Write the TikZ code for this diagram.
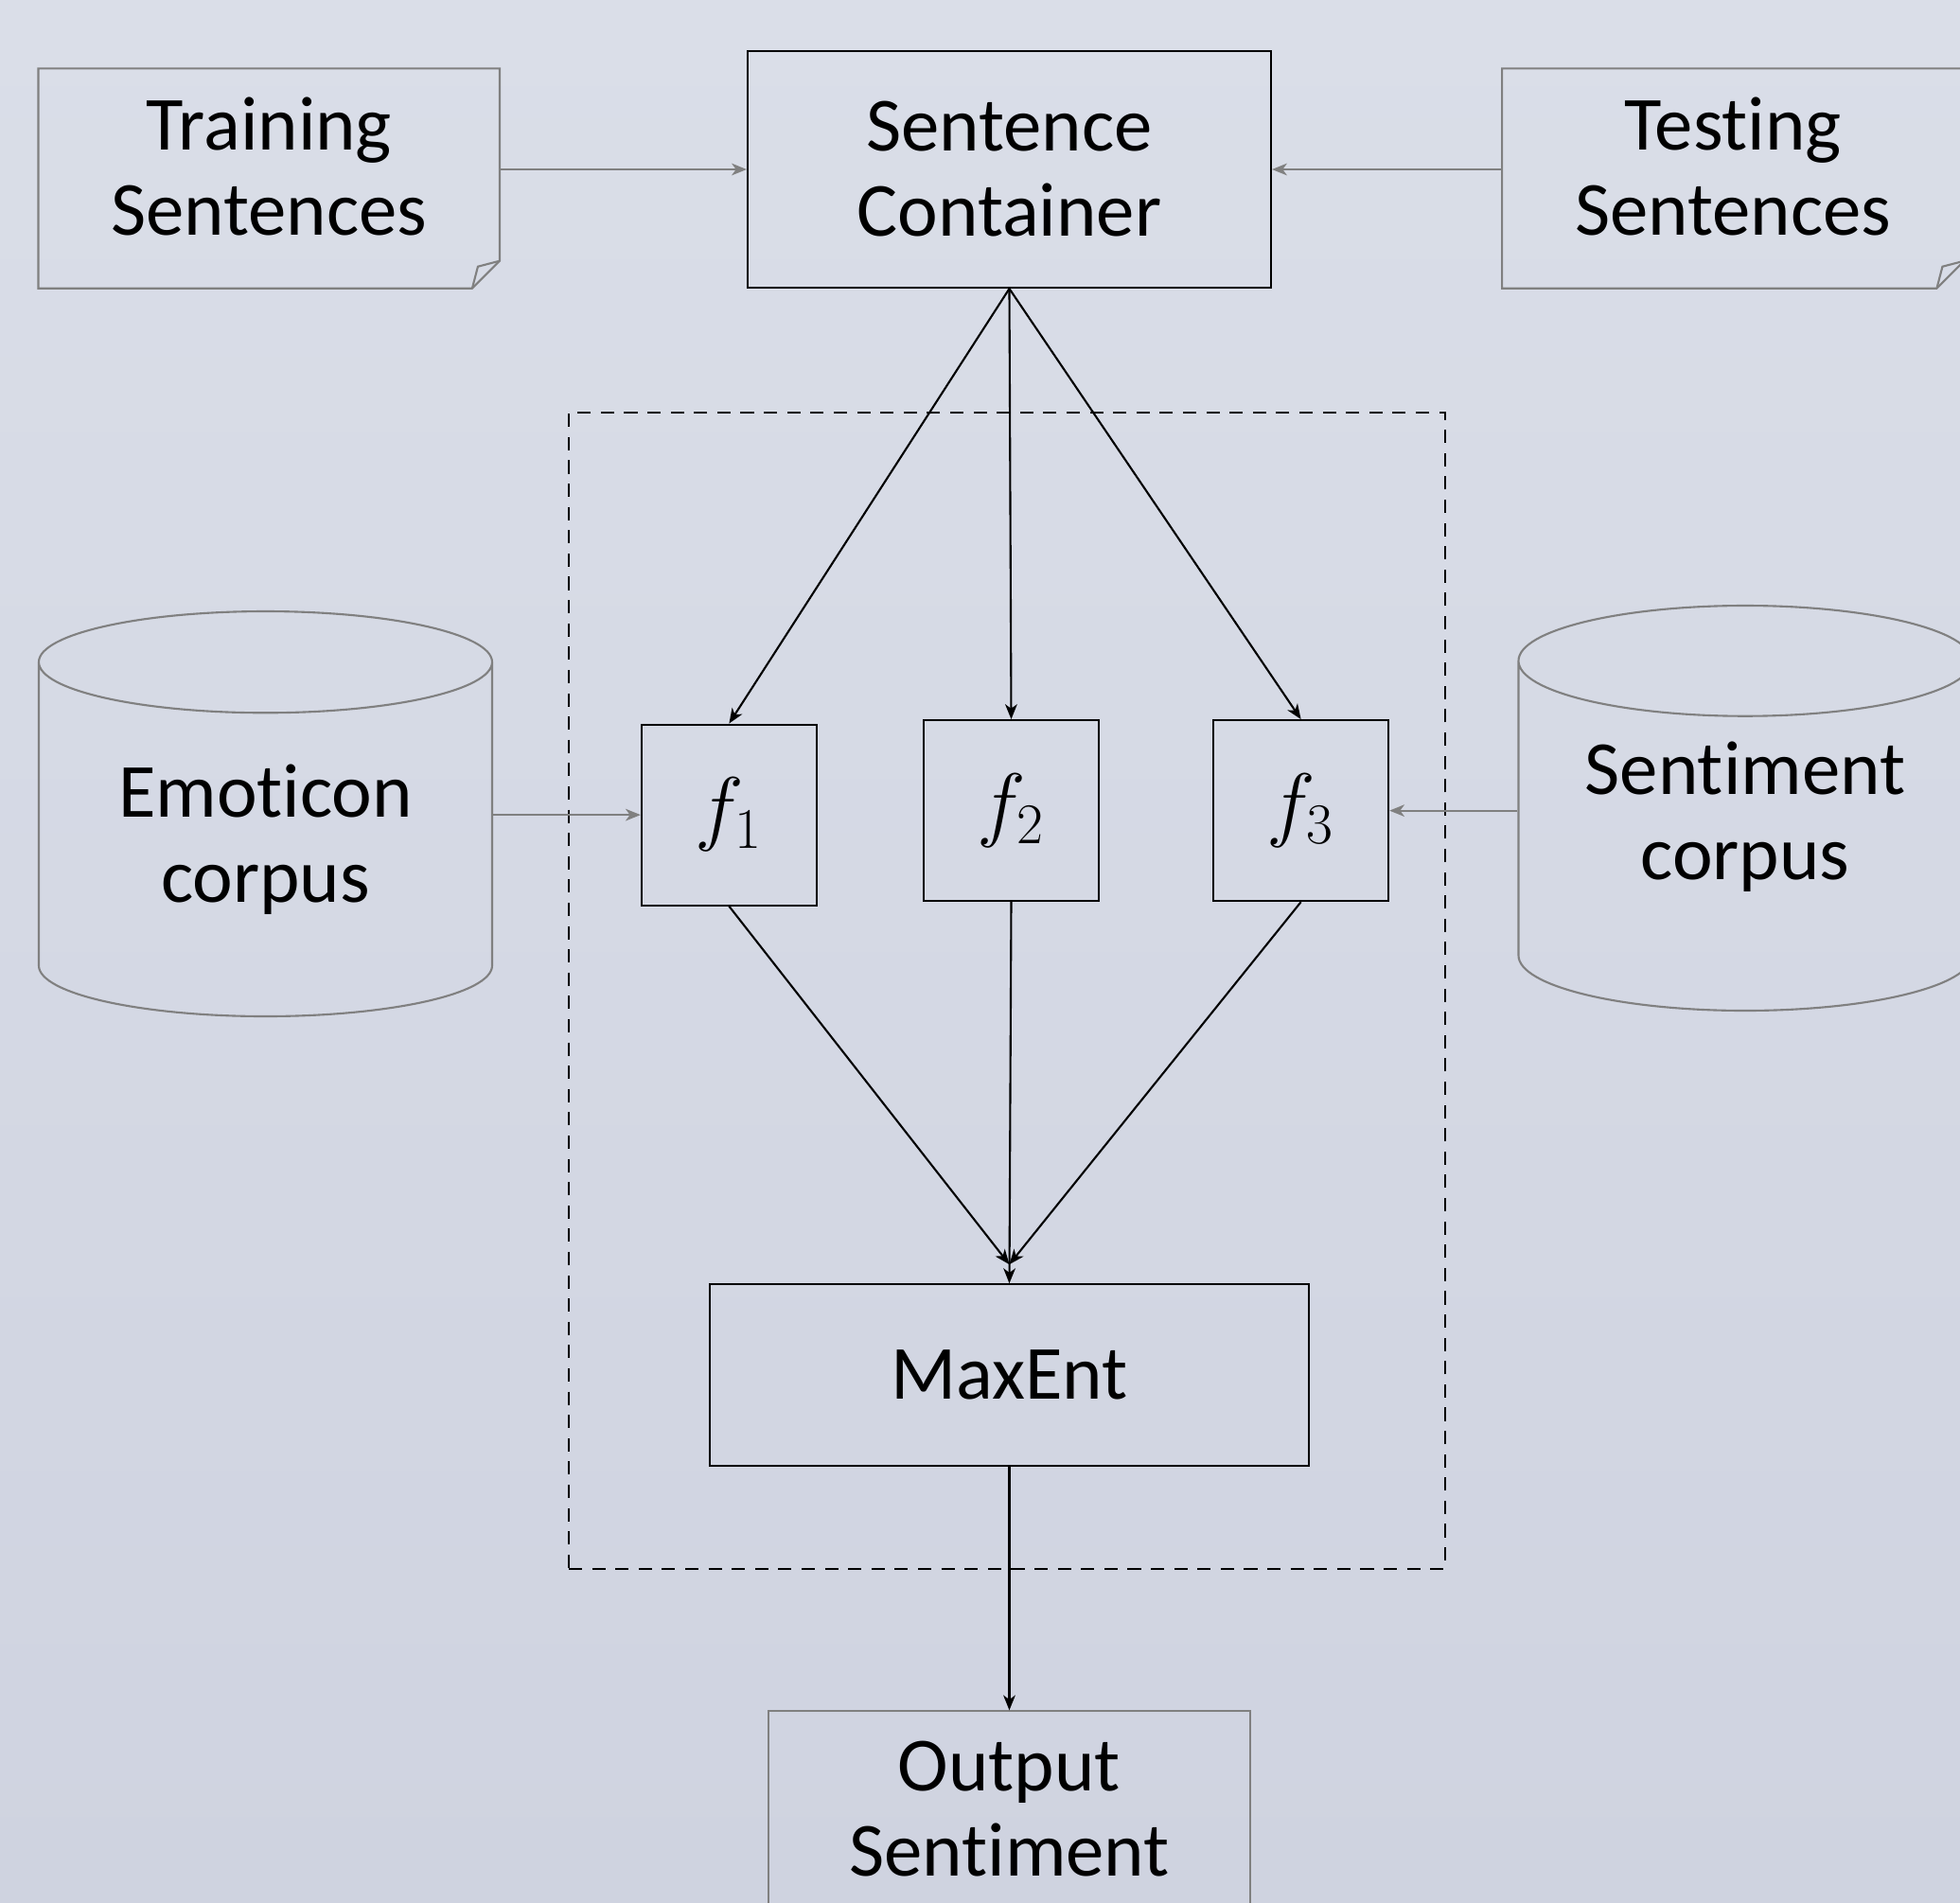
\documentclass[tikz,border=0pt]{standalone}
\usepackage{fontspec}
\setmainfont{Carlito}[Ligatures=NoCommon]
\usetikzlibrary{positioning, arrows.meta, fit, shapes.geometric}
\definecolor{bgtop}{RGB}{218,222,232}
\definecolor{bgbottom}{RGB}{207,211,224}
\definecolor{edge}{RGB}{128,128,128}
\tikzset{
  stage/.style={ % black boxes of the classifier
    rectangle, draw, line width=0.6pt,
    align=center, inner sep=0pt,
    font=\fontsize{23}{25.6}\selectfont
  },
  feat/.style={ % feature boxes
    stage,
    minimum width=1.85cm, minimum height=1.91cm,
    font=\fontsize{25}{28}\selectfont
  },
  doc/.style={ % sheet boxes, outline drawn by hand
    rectangle, inner sep=0pt, align=center,
    minimum width=4.86cm, minimum height=2.31cm,
    text depth=0.26cm,
    font=\fontsize{23}{25.6}\selectfont
  },
  docline/.style={draw=edge, line width=0.6pt},
  store/.style={ % corpus cylinders
    cylinder, shape border rotate=90, draw=edge, line width=0.6pt,
    aspect=0.345, minimum width=4.79cm, minimum height=4.28cm,
    align=center, inner sep=0pt, anchor=shape center,
    font=\fontsize{23}{25.6}\selectfont
  },
  frame/.style={draw, dash pattern=on 4pt off 3pt, line width=0.6pt, inner sep=0pt},
  conn/.style={ % black connections
    -{Stealth[length=4.5pt, width=3.6pt, inset=1.3pt]},
    line width=0.6pt,
  },
  feed/.style={conn, draw=edge}, % grey inputs
}

\begin{document}
\begin{tikzpicture}
	\useasboundingbox (0,0) rectangle (20.71,-20.11);
	\clip (0,0) rectangle (20.71,-20.11);
	\shade[top color=bgtop, bottom color=bgbottom] (0,0) rectangle (20.71,-20.11);
	% classifier frame
	\node[frame, fit={(6.01,-4.36) (15.27,-16.58)}] (clsbox) {};
	% sentences
	\node[stage, minimum width=5.53cm, minimum height=2.50cm] (cont) at (10.665,-1.79) {Sentence\\Container};
	\node[doc, left=2.61cm of cont, yshift=-0.095cm] (train) {Training\\Sentences};
	\node[doc, right=2.43cm of cont, yshift=-0.095cm, minimum width=4.87cm] (test) {Testing\\Sentences};
	\draw[docline] (train.north west) -- (train.north east) -- ([yshift=0.29cm]train.south east) -- ([xshift=-0.29cm]train.south east) -- (train.south west) -- cycle;
	\draw[docline] ([yshift=0.29cm]train.south east) -- ([xshift=-0.23cm,yshift=0.23cm]train.south east) -- ([xshift=-0.29cm]train.south east);
	\draw[docline] (test.north west) -- (test.north east) -- ([yshift=0.29cm]test.south east) -- ([xshift=-0.29cm]test.south east) -- (test.south west) -- cycle;
	\draw[docline] ([yshift=0.29cm]test.south east) -- ([xshift=-0.23cm,yshift=0.23cm]test.south east) -- ([xshift=-0.29cm]test.south east);
	\draw[feed] (train.east |- cont.west) -- (cont.west);
	\draw[feed] (test.west |- cont.east) -- (cont.east);
	% features
	\node[feat, below=4.55cm of cont, xshift=0.02cm] (f2) {$f_2$};
	\node[feat, left=1.11cm of f2, yshift=-0.045cm] (f1) {$f_1$};
	\node[feat, right=1.19cm of f2] (f3) {$f_3$};
	\foreach \f in {f1,f2,f3}
		\draw[conn] (cont.south) -- (\f.north);
	% corpora
	\node[store] (emo) at (2.805,-8.60) {Emoticon\\corpus};
	\node[store, text depth=0.55cm] (senti) at (18.44,-8.54) {Sentiment\\corpus};
	\draw[feed] (f1.west -| emo.east) -- (f1.west);
	\draw[feed] (f3.east -| senti.west) -- (f3.east);
	% classifier and output
	\node[stage, minimum width=6.33cm, minimum height=1.92cm, below=4.03cm of f2, xshift=-0.02cm] (maxent) {MaxEnt};
	\node[doc, draw=edge, line width=0.6pt, minimum width=5.09cm, below=2.57cm of maxent] (out) {Output\\Sentiment};
	\draw[conn] (f1.south) -- ([yshift=0.2cm]maxent.north);
	\draw[conn] (f3.south) -- ([yshift=0.2cm]maxent.north);
	\draw[conn] (f2.south) -- (maxent.north);
	\draw[conn] (maxent) -- (out);
\end{tikzpicture}
\end{document}
